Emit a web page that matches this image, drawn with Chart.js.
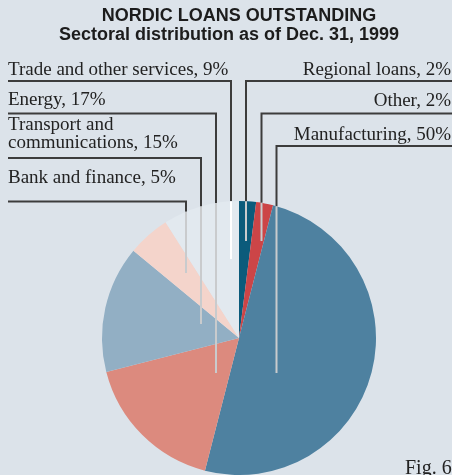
<!DOCTYPE html>
<html lang="en">
<head>
    <meta charset="UTF-8">
    <title>Nordic loans outstanding</title>
    <style>
        html, body {
            margin: 0;
            padding: 0;
            background: #dce3ea;
        }
        #chart {
            display: block;
        }
    </style>
</head>
<body>
    <canvas id="chart" width="452" height="475"></canvas>

    <script src="https://cdn.jsdelivr.net/npm/chart.js@4.4.0/dist/chart.umd.min.js"></script>
    <script>
    // Datos del gráfico (orden horario desde las 12)
    const sectors = ['Regional loans', 'Other', 'Manufacturing', 'Energy',
                     'Transport and communications', 'Bank and finance', 'Trade and other services'];
    const shares = [2, 2, 50, 17, 15, 5, 9];
    const sliceColors = ['#0b5b7b', '#cc4547', '#4e81a0', '#dc8a7e', '#92afc4', '#f4d4cb', '#e2e9ef'];

    const titleText = 'NORDIC LOANS OUTSTANDING';
    const subtitleText = 'Sectoral distribution as of Dec. 31, 1999';
    const figText = 'Fig. 6';

    // posición de cada rótulo: lado, líneas base, subrayado, línea vertical (relativa al centro)
    const labelLayout = [
        { side: 'right', lines: [74.5], lineY: 81, dx: 7, endDy: -97 },
        { side: 'right', lines: [106], lineY: 113.5, dx: 22.5, endDy: -97 },
        { side: 'right', lines: [139.5], lineY: 146, dx: 37.5, endDy: 35 },
        { side: 'left', lines: [105], lineY: 113.5, dx: -23, endDy: 35 },
        { side: 'left', lines: [130, 147.5], lineY: 158, dx: -38, endDy: -14, split: 'Transport and' },
        { side: 'left', lines: [182.5], lineY: 201.5, dx: -53, endDy: -65 },
        { side: 'left', lines: [74.5], lineY: 81, dx: -8, endDy: -79, light: '#ffffff' }
    ];

    const calloutPlugin = {
        id: 'callouts',
        afterDatasetsDraw(chart) {
            const ctx = chart.ctx;
            const arc = chart.getDatasetMeta(0).data[0];
            const cx = arc.x, cy = arc.y, r = arc.outerRadius;

            ctx.save();
            // título y subtítulo
            ctx.fillStyle = '#1c1c1c';
            ctx.textAlign = 'center';
            ctx.textBaseline = 'alphabetic';
            ctx.font = 'bold 18px "Liberation Sans", Arial, sans-serif';
            ctx.fillText(titleText, 239, 21);
            ctx.fillText(subtitleText, 229, 39.5);

            ctx.font = '19px "Liberation Serif", "Times New Roman", serif';
            labelLayout.forEach((lay, i) => {
                const full = sectors[i] + ', ' + shares[i] + '%';
                let textLines = [full];
                if (lay.split) {
                    textLines = [lay.split, full.slice(lay.split.length + 1)];
                }
                const vx = cx + lay.dx;
                const endY = cy + lay.endDy;
                const edgeY = cy - Math.sqrt(r * r - (vx - cx) * (vx - cx));

                ctx.fillStyle = '#222';
                ctx.textAlign = lay.side === 'left' ? 'left' : 'right';
                const tx = lay.side === 'left' ? 8 : 451;
                textLines.forEach((t, k) => ctx.fillText(t, tx, lay.lines[k]));

                // subrayado y tramo oscuro
                ctx.strokeStyle = '#3c3c3c';
                ctx.lineWidth = 2;
                ctx.beginPath();
                if (lay.side === 'left') {
                    ctx.moveTo(8, lay.lineY);
                } else {
                    ctx.moveTo(452, lay.lineY);
                }
                ctx.lineTo(vx, lay.lineY);
                ctx.lineTo(vx, edgeY);
                ctx.stroke();

                // tramo claro dentro de la torta
                ctx.strokeStyle = lay.light || '#c9cbcd';
                ctx.beginPath();
                ctx.moveTo(vx, edgeY);
                ctx.lineTo(vx, endY);
                ctx.stroke();
            });

            // pie de figura, cortado por el borde como en el original
            ctx.fillStyle = '#222';
            ctx.textAlign = 'left';
            ctx.font = '20px "Liberation Serif", "Times New Roman", serif';
            ctx.fillText(figText, 405, 474);
            ctx.restore();
        }
    };

    new Chart(document.getElementById('chart'), {
        type: 'pie',
        data: {
            labels: sectors,
            datasets: [{
                data: shares,
                backgroundColor: sliceColors,
                borderWidth: 0
            }]
        },
        options: {
            responsive: false,
            animation: false,
            layout: {
                padding: { top: 201, bottom: 0, left: 102, right: 76 }
            },
            plugins: {
                legend: { display: false },
                tooltip: { enabled: false }
            }
        },
        plugins: [calloutPlugin]
    });
    </script>
</body>
</html>
